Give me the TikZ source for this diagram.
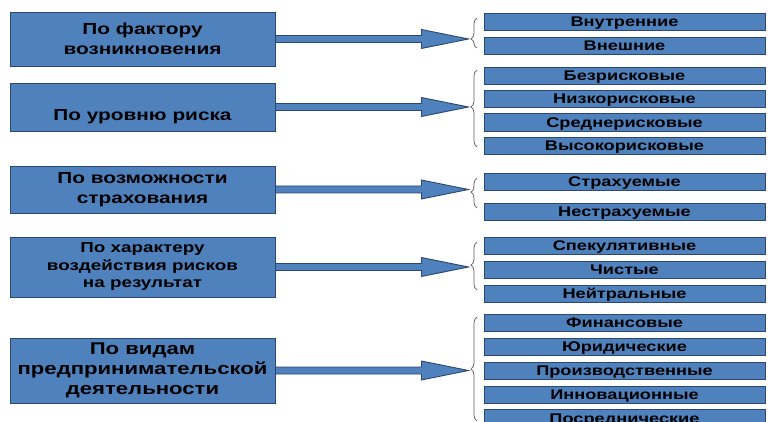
\documentclass[tikz,border=0pt]{standalone}
\usepackage{fontspec}
\setmainfont{Liberation Sans}
\newfontfamily\boxfont[FakeStretch=1.3]{Liberation Sans}
\usepackage{xcolor}
\usetikzlibrary{calc,decorations.pathreplacing}

\definecolor{boxblue}{HTML}{4F81BD}
\definecolor{boxline}{HTML}{2C4770}
\definecolor{bracegray}{HTML}{5A5A5A}

\begin{document}
\begin{tikzpicture}[x=1pt,y=-1pt,
  catbox/.style={draw=boxline,fill=boxblue,line width=0.9pt,minimum width=265pt,inner sep=0pt,align=center,font=\boxfont\bfseries\fontsize{16}{20}\selectfont},
  kindbox/.style={draw=boxline,fill=boxblue,line width=0.9pt,minimum width=281pt,minimum height=17.5pt,inner sep=0pt,text height=10pt,text depth=0pt,font=\boxfont\bfseries\fontsize{14}{16}\selectfont},
  bigarrow/.style={draw=boxline,fill=boxblue,line width=0.9pt,line join=miter},
  kindbrace/.style={draw=bracegray,line width=0.7pt,decorate}]

\useasboundingbox (0,0) rectangle (779,422);

% classification criteria (left column)
\node[catbox,minimum height=54pt] (cat1) at (142.5,39) {По фактору\\возникновения};
\node[catbox,minimum height=48pt,text height=31.5pt,text depth=4pt] (cat2) at (142.5,107) {По уровню риска};
\node[catbox,minimum height=47pt] (cat3) at (142.5,189.5) {По возможности\\страхования};
\node[catbox,minimum height=60pt,font=\boxfont\bfseries\fontsize{14.5}{17.5}\selectfont] (cat4) at (142.5,267) {По характеру\\воздействия рисков\\на результат};
\node[catbox,minimum height=65pt,font=\boxfont\bfseries\fontsize{17}{20}\selectfont] (cat5) at (142.5,370.5) {По видам\\предпринимательской\\деятельности};

% block arrows towards the braces
\foreach \c in {1,...,5}{
  \coordinate (tip\c) at ($(cat\c.east)+(193,0)$);
  \draw[bigarrow] ($(cat\c.east)+(0,-3.5)$) -- ($(tip\c)+(-47,-3.5)$) -- ($(tip\c)+(-47,-9.5)$)
    -- (tip\c) -- ($(tip\c)+(-47,9.5)$) -- ($(tip\c)+(-47,3.5)$) -- ($(cat\c.east)+(0,3.5)$) -- cycle;
}

% braces
\foreach \ytop/\ybot/\asp in {18/48/0.3, 70/147/0.52, 178/208/0.53, 242/290/0.52, 317/421/0.5}
  \draw[kindbrace,decoration={brace,amplitude=6pt,aspect=\asp}] (477,\ybot) -- (477,\ytop);

% kinds of risk (right column)
\foreach \n/\ytop/\txt in {1/13/Внутренние, 2/37/Внешние, 3/67/Безрисковые, 4/90/Низкорисковые,
  5/113.5/Среднерисковые, 6/137/Высокорисковые, 7/173/Страхуемые, 8/203/Нестрахуемые,
  9/237/Спекулятивные, 10/261/Чистые, 11/285/Нейтральные, 12/314/Финансовые,
  13/338/Юридические, 14/362/Производственные, 15/386/Инновационные, 16/409.5/Посреднические}
  \node[kindbox] (kind\n) at (624.5,\ytop+8.75) {\txt};

\end{tikzpicture}
\end{document}
